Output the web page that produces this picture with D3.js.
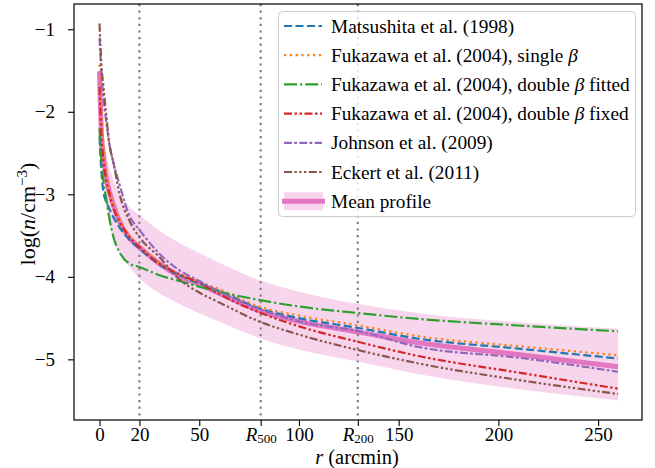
<!DOCTYPE html>
<html>
<head>
<meta charset="utf-8">
<script src="https://cdn.jsdelivr.net/npm/d3@7"></script>
<style>
  body { margin: 0; background: #fff; }
  svg, svg text { font-family: 'Liberation Serif', 'Times New Roman', serif; }
</style>
</head>
<body>
<svg id="chart" width="655" height="468"></svg>
<script>
// radius grid (arcmin)
const r = [0, 1, 2, 3, 5, 7, 10, 15, 20, 30, 40, 50, 60, 80, 100, 130, 160, 210, 260]

const matsushita = [-2.30, -2.75, -2.98, -3.07, -3.18, -3.28, -3.40, -3.55, -3.66, -3.85, -3.98, -4.08, -4.17, -4.38, -4.50, -4.62, -4.75, -4.87, -4.99]
const fukazawaSingle = [-1.43, -2.00, -2.40, -2.65, -2.95, -3.12, -3.30, -3.50, -3.63, -3.83, -3.97, -4.06, -4.15, -4.36, -4.47, -4.59, -4.72, -4.84, -4.95]
const fukazawaFitted = [-2.20, -2.62, -2.85, -3.00, -3.30, -3.52, -3.70, -3.84, -3.88, -3.98, -4.05, -4.12, -4.18, -4.28, -4.36, -4.44, -4.51, -4.59, -4.66]
const fukazawaFixed = [-1.70, -2.30, -2.60, -2.78, -3.00, -3.17, -3.33, -3.52, -3.64, -3.84, -3.97, -4.07, -4.21, -4.43, -4.60, -4.79, -4.96, -5.16, -5.355]
const johnson = [-1.10, -1.55, -1.85, -2.05, -2.40, -2.62, -2.88, -3.26, -3.43, -3.72, -3.92, -4.05, -4.18, -4.39, -4.54, -4.66, -4.85, -4.98, -5.15]
const eckert = [-0.93, -1.45, -1.70, -1.95, -2.40, -2.62, -2.99, -3.32, -3.52, -3.76, -4.03, -4.19, -4.31, -4.54, -4.70, -4.89, -5.05, -5.25, -5.42]
const meanProfile = [-1.51, -2.30, -2.55, -2.75, -2.97, -3.13, -3.33, -3.53, -3.64, -3.84, -3.99, -4.09, -4.20, -4.41, -4.54, -4.67, -4.80, -4.94, -5.09]
const meanUpper = [-1.45, -2.10, -2.30, -2.45, -2.68, -2.83, -2.98, -3.15, -3.25, -3.44, -3.59, -3.71, -3.83, -4.04, -4.18, -4.33, -4.44, -4.55, -4.63]
const meanLower = [-1.60, -2.55, -2.85, -3.05, -3.35, -3.55, -3.72, -3.88, -4.02, -4.20, -4.33, -4.44, -4.54, -4.74, -4.88, -5.03, -5.18, -5.36, -5.50]

const R500 = 80.8
const R200 = 129.5
const vlines = [20, R500, R200]
const xTicks = [0, 20, 50, R500, 100, R200, 150, 200, 250]
const xTickLabels = ["0", "20", "50", "R500", "100", "R200", "150", "200", "250"]
const yTicks = [-1, -2, -3, -4, -5]

const seriesNames = [
  "Matsushita et al. (1998)",
  "Fukazawa et al. (2004), single β",
  "Fukazawa et al. (2004), double β fitted",
  "Fukazawa et al. (2004), double β fixed",
  "Johnson et al. (2009)",
  "Eckert et al. (2011)"
]
const seriesValues = [matsushita, fukazawaSingle, fukazawaFitted, fukazawaFixed, johnson, eckert]
const seriesColors = ["#1f77b4", "#ff7f0e", "#2ca02c", "#d62728", "#9467bd", "#8c564b"]
const seriesDashes = [
  "8,3.5",
  "2.2,3.6",
  "13,3,2.2,3",
  "8,2.5,2.5,2.5,2.5,2.5",
  "8,2.2,2.8,2.3",
  "8,2.4,2.4,2.4,2.4,2.4,2.4,2.4"
]
const pink = "#e377c2"
const serif = "'Liberation Serif', 'Times New Roman', serif"

const svg = d3.select("#chart")
const x = d3.scaleLinear().domain([-12.8, 272]).range([74, 642])
const y = d3.scaleLinear().domain([-5.735, -0.694]).range([420, 4])

// uncertainty band of the mean profile
const area = d3.area()
  .x((d, i) => x(r[i]))
  .y0((d, i) => y(meanLower[i]))
  .y1((d, i) => y(meanUpper[i]))
  .curve(d3.curveMonotoneX)
svg.append("path")
  .datum(r)
  .attr("d", area)
  .attr("fill", pink)
  .attr("fill-opacity", 0.3)

// reference radii
svg.append("g")
  .selectAll("line")
  .data(vlines)
  .enter()
  .append("line")
  .attr("x1", d => x(d))
  .attr("x2", d => x(d))
  .attr("y1", 4)
  .attr("y2", 420)
  .attr("stroke", "#808080")
  .attr("stroke-width", 2.2)
  .attr("stroke-dasharray", "2.2,4.4")

const line = vals => d3.line()
  .x((d, i) => x(r[i]))
  .y(d => y(d))
  .curve(d3.curveMonotoneX)(vals)

svg.append("path")
  .attr("d", line(meanProfile))
  .attr("fill", "none")
  .attr("stroke", pink)
  .attr("stroke-width", 5)

svg.append("g")
  .selectAll("path")
  .data(seriesValues)
  .enter()
  .append("path")
  .attr("d", d => line(d))
  .attr("fill", "none")
  .attr("stroke", (d, i) => seriesColors[i])
  .attr("stroke-width", 2.2)
  .attr("stroke-dasharray", (d, i) => seriesDashes[i])

// axes
const xAxis = svg.append("g")
  .attr("transform", "translate(0,420)")
  .call(d3.axisBottom(x).tickValues(xTicks).tickSize(6).tickFormat((d, i) => xTickLabels[i]))
xAxis.selectAll("text")
  .attr("y", 21)
  .attr("dy", null)
  .each(function (d, i) {
    const lab = xTickLabels[i]
    if (lab[0] === "R") {
      const t = d3.select(this).text(null)
      t.append("tspan").attr("font-style", "italic").text("R")
      t.append("tspan").attr("font-size", 13).attr("dy", 1.5).text(lab.slice(1))
    }
  })

svg.append("g")
  .attr("transform", "translate(74,0)")
  .call(d3.axisLeft(y).tickValues(yTicks).tickSize(6).tickPadding(13).tickFormat(d => "−" + Math.abs(d)))

svg.selectAll(".domain").remove()
svg.selectAll(".tick line").attr("stroke", "#000").attr("stroke-width", 1.1)
svg.selectAll(".tick text").attr("font-size", 19).attr("fill", "#000").attr("font-family", serif)
svg.selectAll("g").attr("font-family", serif)

svg.append("rect")
  .attr("x", 74).attr("y", 4).attr("width", 568).attr("height", 416)
  .attr("fill", "none").attr("stroke", "#000").attr("stroke-width", 1.2)

// axis labels
const xl = svg.append("text")
  .attr("x", 357).attr("y", 464)
  .attr("text-anchor", "middle")
  .attr("font-size", 20.5)
xl.append("tspan").attr("font-style", "italic").text("r")
xl.append("tspan").text(" (arcmin)")

const yl = svg.append("text")
  .attr("transform", "translate(35,214) rotate(-90)")
  .attr("text-anchor", "middle")
  .attr("font-size", 22)
yl.append("tspan").text("log(")
yl.append("tspan").attr("font-style", "italic").text("n")
yl.append("tspan").text("/cm")
yl.append("tspan").attr("font-size", 15).attr("dy", -8).text("−3")
yl.append("tspan").attr("dy", 8).text(")")

// legend
const legend = svg.append("g")
legend.append("rect")
  .attr("x", 278.5).attr("y", 11.5).attr("width", 357).attr("height", 205).attr("rx", 4)
  .attr("fill", "#fff").attr("fill-opacity", 0.8)
  .attr("stroke", "#cccccc").attr("stroke-width", 1)

const rowY = i => 26 + i * 29.2
const labelText = (sel, s) => {
  const parts = s.split("β")
  sel.append("tspan").text(parts[0])
  if (parts.length > 1) {
    sel.append("tspan").attr("font-style", "italic").text("β")
    sel.append("tspan").text(parts[1])
  }
}

seriesNames.forEach((name, i) => {
  legend.append("line")
    .attr("x1", 284).attr("x2", 322)
    .attr("y1", rowY(i)).attr("y2", rowY(i))
    .attr("stroke", seriesColors[i])
    .attr("stroke-width", 2.2)
    .attr("stroke-dasharray", seriesDashes[i])
  const t = legend.append("text")
    .attr("x", 331).attr("y", rowY(i) + 6.5)
    .attr("font-size", 19.3)
  labelText(t, name)
})

const mi = seriesNames.length
legend.append("rect")
  .attr("x", 284).attr("y", rowY(mi) - 9).attr("width", 39).attr("height", 18)
  .attr("fill", pink).attr("fill-opacity", 0.3)
legend.append("line")
  .attr("x1", 282).attr("x2", 325)
  .attr("y1", rowY(mi)).attr("y2", rowY(mi))
  .attr("stroke", pink).attr("stroke-width", 5)
legend.append("text")
  .attr("x", 331).attr("y", rowY(mi) + 6.5)
  .attr("font-size", 19.3)
  .text("Mean profile")
</script>
</body>
</html>
